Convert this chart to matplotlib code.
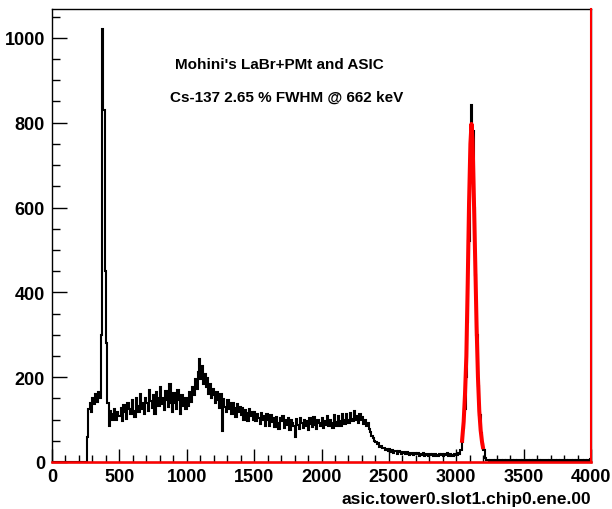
import numpy as np
import matplotlib
matplotlib.use("Agg")
import matplotlib.pyplot as plt
from matplotlib.ticker import MultipleLocator

# ADC channel spectrum, 10-channel bins from 0 to 4000
bin_edges = np.arange(0, 4010, 10)

counts_0_490 = [0] * 25 + [
    0, 60, 125, 140, 118, 152, 136, 160, 142, 166,
    150, 300, 1020, 830, 450, 280, 140, 84, 120, 100,
    112, 126, 98, 118, 108]
counts_500_990 = [
    108, 128, 96, 134, 119, 102, 140, 124, 113, 146,
    120, 106, 151, 131, 117, 160, 126, 140, 112, 152,
    138, 121, 170, 144, 128, 158, 114, 166, 150, 132,
    176, 136, 152, 122, 168, 145, 130, 184, 140, 118,
    162, 138, 126, 170, 147, 112, 158, 133, 150, 124]
counts_1000_1490 = [
    150, 132, 166, 142, 178, 158, 196, 172, 212, 244,
    196, 226, 184, 208, 176, 198, 160, 184, 150, 172,
    158, 138, 166, 146, 128, 160, 74, 148, 130, 118,
    146, 124, 138, 112, 140, 128, 106, 136, 118, 130,
    110, 128, 100, 122, 116, 96, 126, 108, 119, 98]
counts_1500_1990 = [
    118, 96, 112, 104, 90, 116, 98, 108, 86, 112,
    100, 84, 110, 95, 104, 82, 106, 92, 78, 104,
    96, 108, 80, 98, 88, 104, 76, 100, 92, 84,
    60, 102, 88, 78, 104, 92, 80, 100, 86, 96,
    76, 104, 90, 82, 106, 88, 78, 98, 92, 84]
counts_2000_2490 = [
    104, 80, 96, 88, 108, 84, 100, 92, 80, 110,
    94, 86, 108, 96, 84, 112, 98, 90, 114, 100,
    92, 116, 102, 96, 120, 98, 108, 92, 114, 100,
    106, 90, 100, 84, 92, 78, 70, 62, 56, 50,
    48, 42, 44, 36, 38, 32, 34, 29, 31, 27]
counts_2500_2990 = [
    30, 24, 28, 22, 27, 25, 20, 26, 23, 19,
    24, 21, 18, 23, 20, 17, 22, 19, 16, 21,
    18, 22, 15, 20, 17, 21, 15, 19, 17, 14,
    20, 16, 18, 14, 19, 17, 13, 18, 16, 20,
    14, 18, 16, 21, 13, 19, 17, 15, 20, 18]
counts_3000_3990 = [
    16, 22, 20, 28, 48, 80, 125, 200, 330, 520,
    690, 842, 780, 600, 440, 300, 180, 110, 68, 42,
    28, 10, 5, 4, 3, 5, 3, 4, 2, 5,
    3, 4, 3, 5, 2, 4, 3, 4, 3, 5,
    2, 4, 3, 4, 3, 5, 2, 4, 3, 4,
    3, 5, 2, 4, 3, 4, 3, 4, 2, 5,
    3, 4, 3, 5, 2, 4, 3, 4, 3, 4,
    2, 5, 3, 4, 3, 4, 2, 4, 3, 5,
    3, 4, 2, 4, 3, 5, 3, 4, 2, 4,
    3, 4, 3, 5, 2, 4, 3, 4, 3, 6]

counts = (counts_0_490 + counts_500_990 + counts_1000_1490 + counts_1500_1990
          + counts_2000_2490 + counts_2500_2990 + counts_3000_3990)

# gaussian fit of the 662 keV photopeak (red curve)
fit_x = [3043, 3055, 3065, 3075, 3085, 3095, 3105, 3113, 3121, 3131,
         3141, 3151, 3161, 3171, 3181, 3191, 3198]
fit_y = [50, 95, 160, 250, 420, 610, 750, 797, 760, 620,
         470, 320, 200, 120, 75, 48, 35]

title_lines = ["Mohini's LaBr+PMt and ASIC", "Cs-137 2.65 % FWHM @ 662 keV"]
x_label = "asic.tower0.slot1.chip0.ene.00"

plt.rcParams["font.family"] = ["Liberation Sans", "DejaVu Sans"]
plt.rcParams["font.weight"] = "bold"

fig = plt.figure(figsize=(6.12, 5.10), dpi=100)
W, H = 612, 510
ax = fig.add_axes([52 / W, 1 - 463 / H, (591 - 52) / W, (463 - 10) / H])

ax.stairs(counts, bin_edges, color="black", lw=1.5, zorder=2)
ax.plot(fit_x, fit_y, color="red", lw=2.9, zorder=3)
ax.axhline(0, color="red", lw=1.8, zorder=4, clip_on=False)
ax.axvline(4000, color="red", lw=1.5, zorder=4, clip_on=False)

ax.set_xlim(0, 4000)
ax.set_ylim(0, 1068)
ax.xaxis.set_major_locator(MultipleLocator(500))
ax.xaxis.set_minor_locator(MultipleLocator(100))
ax.yaxis.set_major_locator(MultipleLocator(200))
ax.yaxis.set_minor_locator(MultipleLocator(50))
ax.tick_params(which="both", direction="in", top=False, right=False,
               labelsize=13, width=1)
ax.tick_params(axis="x", which="major", length=9.5, pad=4)
ax.tick_params(axis="x", which="minor", length=5)
ax.tick_params(axis="y", which="major", length=11, pad=5)
ax.tick_params(axis="y", which="minor", length=6)
for lab in ax.get_xticklabels() + ax.get_yticklabels():
    lab.set_fontweight("bold")
for s in ax.spines.values():
    s.set_linewidth(1.0)

fig.text(279 / W, 1 - 65 / H, title_lines[0], ha="center", va="center",
         fontsize=11, fontweight="bold")
fig.text(287 / W, 1 - 98 / H, title_lines[1], ha="center", va="center",
         fontsize=11, fontweight="bold")
fig.text(591 / W, 1 - 500 / H, x_label, ha="right", va="center",
         fontsize=12.5, fontweight="bold")

fig.savefig("out.png", dpi=100)
